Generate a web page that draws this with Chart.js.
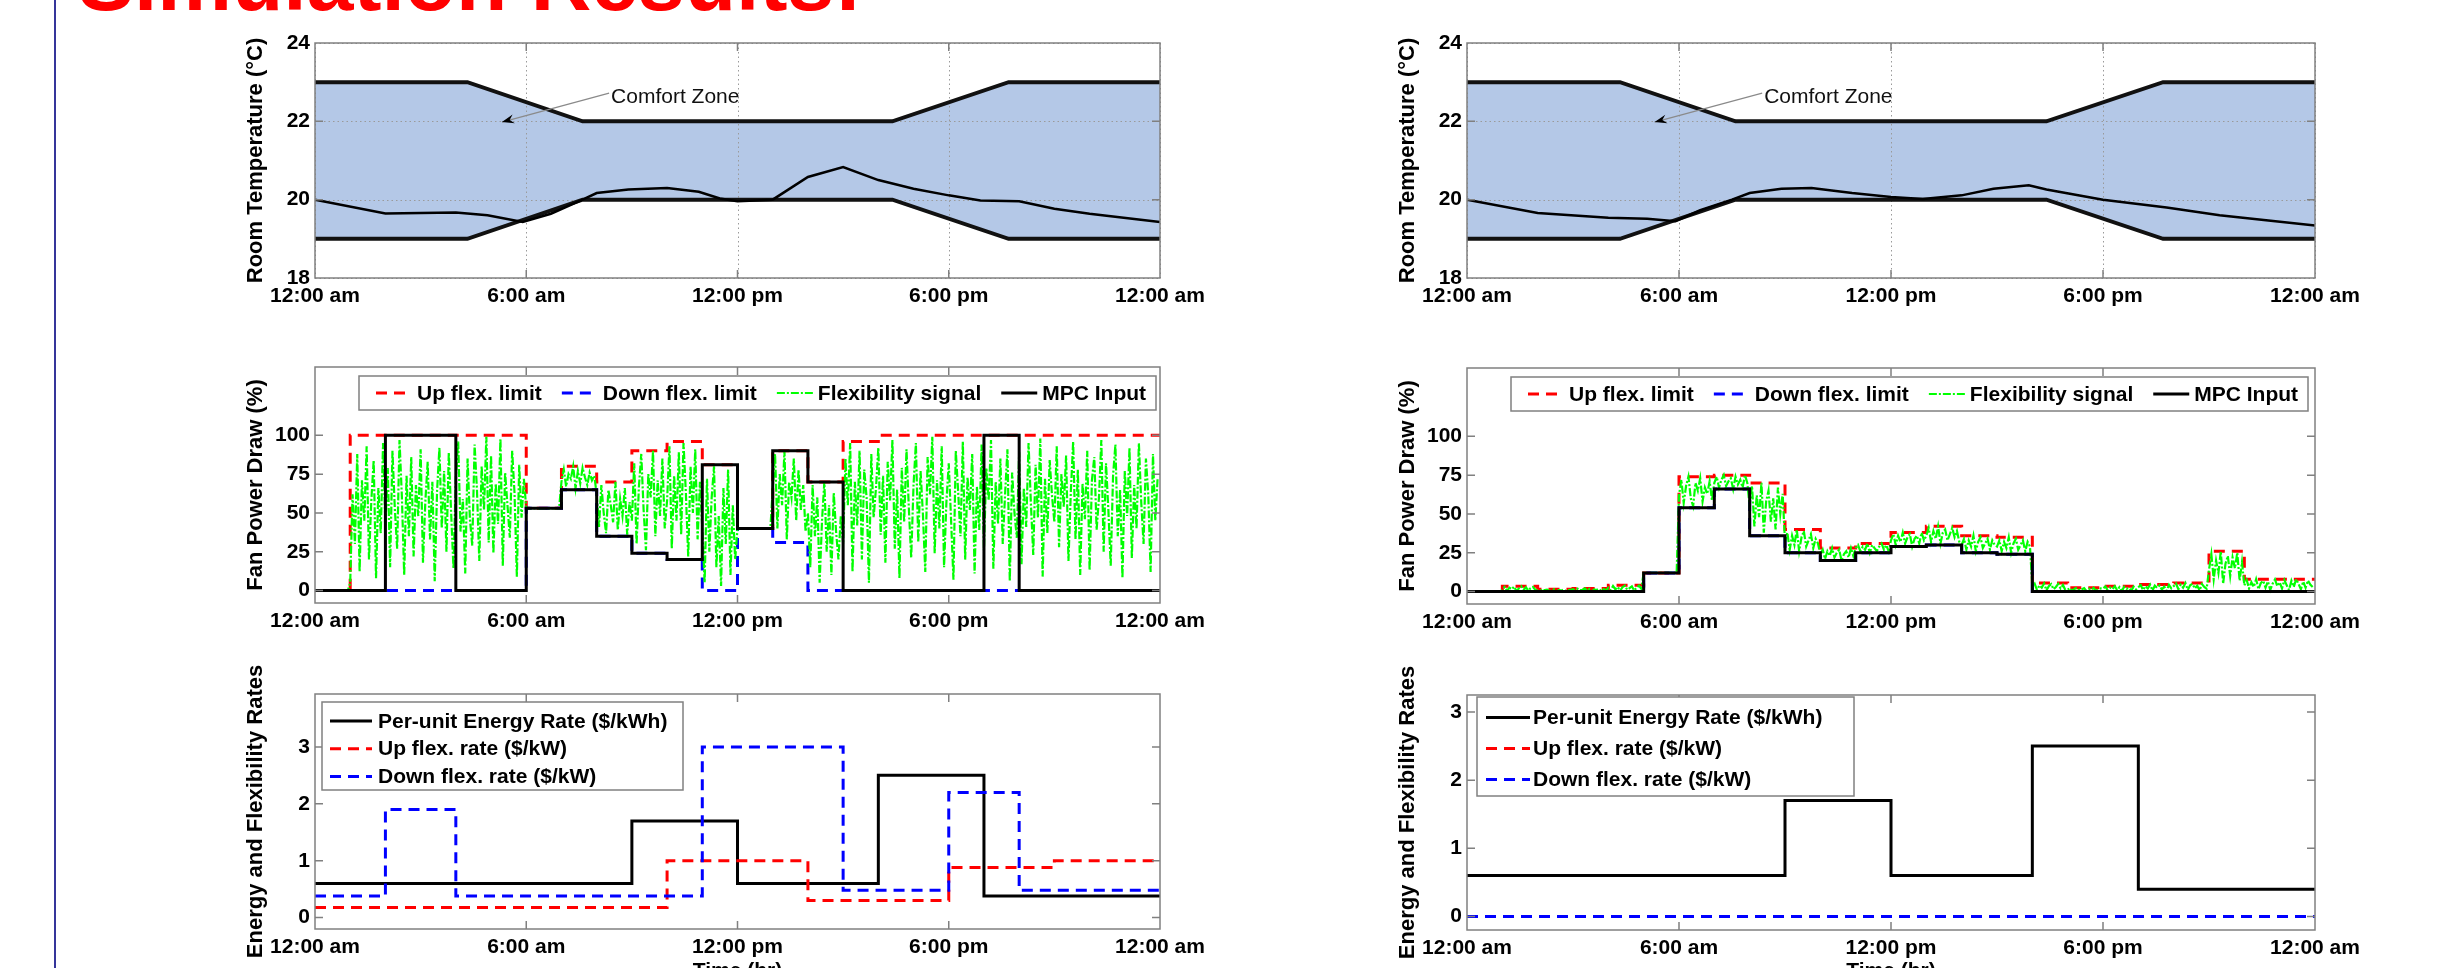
<!DOCTYPE html>
<html>
<head>
<meta charset="utf-8">
<script src="https://cdn.jsdelivr.net/npm/chart.js@4"></script>
<style>
  html, body { margin: 0; padding: 0; background: #fff; }
  body { width: 2459px; height: 968px; overflow: hidden; position: relative; font-family: "Liberation Sans", Arial, sans-serif; }
  #title { position: absolute; left: 78px; top: -61px; font-size: 84px; line-height: 84px; font-weight: bold; color: #ff0000; white-space: nowrap; }
  #bar { position: absolute; left: 54px; top: 0; width: 2px; height: 968px; background: #35359a; }
  canvas { position: absolute; }
</style>
</head>
<body>
<div id="title">Simulation Results:</div>
<div id="bar"></div>
<canvas id="tempA" width="977" height="305" style="left:243px;top:23px"></canvas>
<canvas id="tempB" width="980" height="305" style="left:1395px;top:23px"></canvas>
<canvas id="fanA" width="977" height="306" style="left:243px;top:347px"></canvas>
<canvas id="fanB" width="980" height="306" style="left:1395px;top:348px"></canvas>
<canvas id="rateA" width="977" height="335" style="left:243px;top:649px"></canvas>
<canvas id="rateB" width="980" height="334" style="left:1395px;top:650px"></canvas>
<script>
"use strict";
const FONT = "'Liberation Sans', Arial, sans-serif";

// axis ticks
const hourTicks = [0, 6, 12, 18, 24];
const hourLabels = ["12:00 am", "6:00 am", "12:00 pm", "6:00 pm", "12:00 am"];
const tempTicks = [18, 20, 22, 24];
const fanTicks = [0, 25, 50, 75, 100];
const rateTicks = [0, 1, 2, 3];

// comfort zone (same for both cases)
const zoneTimes = [0, 4.33, 7.6, 16.4, 19.7, 24];
const zoneUpper = [23, 23, 22, 22, 23, 23];
const zoneLower = [19, 19, 20, 20, 19, 19];

// room temperature, left case
const tempTimesA = [0, 2, 4, 4.9, 5.9, 6.7, 7.6, 8, 8.9, 10, 10.9, 11.5, 12, 13, 14, 15, 16, 17, 18, 18.9, 20, 21, 22, 24];
const tempA = [20, 19.65, 19.67, 19.6, 19.43, 19.64, 20, 20.17, 20.26, 20.3, 20.2, 20.03, 19.96, 20, 20.58, 20.83, 20.5, 20.28, 20.11, 19.98, 19.96, 19.77, 19.64, 19.43];
// room temperature, right case
const tempTimesB = [0, 2, 4, 5.1, 5.9, 6.6, 7.5, 8, 8.9, 9.75, 10.9, 12, 12.9, 14, 14.9, 15.9, 16.4, 18, 19.8, 21.3, 24];
const tempB = [20, 19.66, 19.54, 19.51, 19.45, 19.73, 20, 20.17, 20.28, 20.3, 20.17, 20.07, 20.02, 20.11, 20.28, 20.37, 20.26, 20, 19.8, 19.6, 19.34];

// fan power draw, hourly values (%), left case
const upA   = [0, 100, 100, 100, 100, 100, 53, 80, 70, 90, 96, 81, 40, 90, 70, 96, 100, 100, 100, 100, 100, 100, 100, 100];
const downA = [0, 0, 0, 0, 0, 0, 53, 65, 35, 24, 20, 0, 40, 31, 0, 0, 0, 0, 0, 0, 0, 0, 0, 0];
const mpcA  = [0, 0, 100, 100, 0, 0, 53, 65, 35, 24, 20, 81, 40, 90, 70, 0, 0, 0, 0, 100, 0, 0, 0, 0];
// fan power draw, hourly values (%), right case
const upB   = [0, 3.5, 1.5, 2, 4, 12, 74, 75, 70, 40, 28, 31, 38, 42, 36, 35, 5.5, 2.5, 3.5, 4.5, 5.5, 26, 8, 8];
const downB = [0, 0, 0, 0, 0, 12, 54, 66, 36, 25, 20, 25, 29, 30, 25, 24, 0, 0, 0, 0, 0, 0, 0, 0];
const mpcB  = [0, 0, 0, 0, 0, 12, 54, 66, 36, 25, 20, 25, 29, 30, 25, 24, 0, 0, 0, 0, 0, 0, 0, 0];

// flexibility signal, 15 samples per hour
const flexPerHour = 15;
const flexA = [
  0, 0, 0, 0, 0, 0, 0, 0, 0, 0, 0, 0, 0, 0, 0,
  5, 62, 30, 88, 12, 71, 45, 93, 20, 58, 84, 8, 66, 37, 95,
  42, 79, 15, 90, 53, 27, 97, 61, 10, 74, 35, 86, 22, 68, 48,
  91, 18, 57, 83, 33, 70, 6, 64, 92, 40, 77, 25, 89, 50, 14,
  73, 96, 38, 59, 11, 85, 46, 29, 94, 65, 19, 80, 52, 99, 31,
  87, 24, 69, 43, 98, 16, 76, 55, 34, 90, 63, 9, 81, 47, 72,
  53, 53, 53, 53, 53, 53, 53, 53, 53, 53, 53, 53, 53, 53, 53,
  70, 78, 67, 75, 72, 80, 66, 77, 69, 79, 73, 68, 76, 71, 74,
  62, 41, 68, 50, 37, 65, 55, 44, 70, 39, 59, 48, 66, 36, 57,
  45, 82, 30, 67, 88, 52, 26, 75, 60, 90, 35, 71, 48, 85, 40,
  58, 93, 27, 74, 45, 89, 36, 95, 63, 22, 80, 50, 91, 33, 70,
  40, 5, 72, 25, 60, 80, 15, 48, 3, 66, 30, 78, 10, 55, 20,
  40, 40, 40, 40, 40, 40, 40, 40, 40, 40, 40, 40, 40, 40, 40,
  65, 88, 40, 75, 55, 90, 33, 70, 60, 85, 45, 78, 52, 68, 38,
  50, 15, 68, 35, 60, 5, 45, 70, 25, 55, 10, 63, 38, 20, 48,
  30, 85, 55, 95, 12, 70, 42, 90, 20, 78, 60, 5, 88, 47, 66,
  92, 36, 74, 18, 83, 58, 97, 27, 65, 8, 79, 44, 91, 53, 21,
  68, 95, 31, 77, 49, 12, 86, 62, 99, 24, 71, 40, 93, 15, 57,
  82, 45, 7, 90, 64, 35, 96, 20, 73, 52, 88, 11, 67, 39, 94,
  26, 79, 58, 97, 14, 70, 43, 85, 30, 62, 91, 6, 76, 50, 34,
  89, 17, 66, 41, 95, 56, 23, 81, 47, 98, 9, 72, 37, 84, 61,
  44, 93, 28, 75, 54, 87, 19, 63, 96, 33, 78, 10, 69, 46, 90,
  13, 71, 86, 39, 60, 97, 25, 82, 52, 16, 74, 94, 35, 65, 8,
  77, 48, 92, 21, 68, 40, 95, 57, 30, 85, 62, 12, 88, 45, 73
];
const flexB = [
  0, 0, 0, 0, 0, 0, 0, 0, 0, 0, 0, 0, 0, 0, 0,
  1, 3, 0.5, 2.5, 1.5, 3.2, 0.3, 2, 3.4, 1, 2.8, 0.6, 2.2, 3, 1.2,
  0.5, 1.4, 0.2, 1, 1.3, 0.4, 0.8, 1.5, 0.1, 1.1, 0.6, 1.4, 0.3, 0.9, 1.2,
  1.5, 0.3, 1.9, 0.8, 1.2, 2, 0.5, 1.7, 0.2, 1.4, 1, 1.8, 0.4, 1.6, 0.7,
  2.5, 0.8, 3.6, 1.5, 3, 0.4, 2.8, 3.9, 1.2, 2.2, 3.4, 0.6, 2.6, 3.8, 1.8,
  12, 12, 12, 12, 12, 12, 12, 12, 12, 12, 12, 12, 12, 12, 12,
  62, 72, 57, 68, 74, 60, 55, 70, 65, 73, 58, 67, 63, 71, 59,
  70, 74, 67, 72, 75, 68, 71, 73, 66, 74, 69, 72, 67, 75, 70,
  55, 68, 42, 62, 48, 70, 38, 58, 65, 45, 60, 40, 67, 50, 63,
  32, 38, 27, 36, 30, 40, 26, 35, 39, 29, 33, 37, 28, 34, 31,
  24, 27, 21, 26, 23, 28, 22, 25, 27, 20, 24, 26, 22, 28, 23,
  28, 30, 26, 29, 27, 31, 25, 30, 28, 26, 29, 31, 27, 30, 26,
  33, 37, 30, 36, 32, 38, 31, 35, 37, 29, 34, 36, 31, 38, 33,
  36, 41, 32, 39, 34, 42, 31, 38, 40, 33, 37, 41, 35, 39, 32,
  30, 34, 27, 33, 29, 36, 26, 32, 35, 28, 31, 34, 27, 33, 30,
  29, 33, 26, 32, 28, 35, 25, 31, 34, 27, 30, 33, 26, 32, 29,
  3, 5, 1, 4, 2.5, 5.2, 0.8, 3.5, 4.8, 1.5, 3, 5, 2, 4.2, 1,
  1.2, 2.3, 0.5, 1.8, 2.5, 0.8, 1.5, 2.2, 0.3, 1.9, 1, 2.4, 0.6, 1.6, 2,
  2, 3.3, 0.8, 2.6, 1.5, 3.5, 1, 2.9, 0.4, 3.1, 1.8, 2.4, 0.6, 3.2, 1.3,
  2.8, 4.2, 1, 3.5, 2, 4.5, 0.7, 3.8, 2.4, 4, 1.3, 3.2, 0.5, 4.3, 2.1,
  3.5, 5.2, 1.5, 4.5, 2.5, 5.5, 1, 4, 5, 2, 3.8, 0.8, 4.8, 3, 1.8,
  14, 24, 8, 20, 12, 26, 5, 18, 23, 10, 22, 15, 25, 7, 19,
  4, 7.5, 2, 6, 3, 8, 1.5, 5.5, 7, 2.5, 6.5, 1, 5, 7.8, 3.5,
  6, 2, 7.5, 4, 1, 7, 3, 8, 5, 1.5, 6.5, 2.5, 7.2, 4.5, 3
];

// energy and flexibility rates, hourly
const energyA   = [0.6, 0.6, 0.6, 0.6, 0.6, 0.6, 0.6, 0.6, 0.6, 1.7, 1.7, 1.7, 0.6, 0.6, 0.6, 0.6, 2.5, 2.5, 2.5, 0.38, 0.38, 0.38, 0.38, 0.38];
const upRateA   = [0.18, 0.18, 0.18, 0.18, 0.18, 0.18, 0.18, 0.18, 0.18, 0.18, 1, 1, 1, 1, 0.3, 0.3, 0.3, 0.3, 0.88, 0.88, 0.88, 1, 1, 1];
const downRateA = [0.38, 0.38, 1.9, 1.9, 0.38, 0.38, 0.38, 0.38, 0.38, 0.38, 0.38, 3, 3, 3, 3, 0.48, 0.48, 0.48, 2.2, 2.2, 0.48, 0.48, 0.48, 0.48];
const energyB   = [0.6, 0.6, 0.6, 0.6, 0.6, 0.6, 0.6, 0.6, 0.6, 1.7, 1.7, 1.7, 0.6, 0.6, 0.6, 0.6, 2.5, 2.5, 2.5, 0.4, 0.4, 0.4, 0.4, 0.4];
const upRateB   = [0, 0, 0, 0, 0, 0, 0, 0, 0, 0, 0, 0, 0, 0, 0, 0, 0, 0, 0, 0, 0, 0, 0, 0];
const downRateB = [0, 0, 0, 0, 0, 0, 0, 0, 0, 0, 0, 0, 0, 0, 0, 0, 0, 0, 0, 0, 0, 0, 0, 0];

function pairs(xs, ys) {
  return ys.map((y, i) => ({ x: xs[i], y: y }));
}
function hourly(vals) {
  // each value holds for its hour, last one carried to 24
  return vals.map((v, h) => ({ x: h, y: v })).concat([{ x: 24, y: vals[vals.length - 1] }]);
}
function samples(vals) {
  return vals.map((v, i) => ({ x: i / flexPerHour, y: v }));
}

// frame, inward ticks and dotted grid like the matlab axes
const frame = {
  id: "frame",
  beforeDatasetsDraw(chart, args, opts) {
    if (!opts.grid) return;
    const { ctx, chartArea: a, scales: { x, y } } = chart;
    ctx.save();
    ctx.strokeStyle = "#9a9a9a";
    ctx.lineWidth = 1;
    ctx.setLineDash([1.5, 3]);
    x.ticks.forEach(t => {
      const px = Math.round(x.getPixelForValue(t.value)) + 0.5;
      ctx.beginPath(); ctx.moveTo(px, a.top); ctx.lineTo(px, a.bottom); ctx.stroke();
    });
    y.ticks.forEach(t => {
      const py = Math.round(y.getPixelForValue(t.value)) + 0.5;
      ctx.beginPath(); ctx.moveTo(a.left, py); ctx.lineTo(a.right, py); ctx.stroke();
    });
    ctx.restore();
  },
  afterDatasetsDraw(chart) {
    const { ctx, chartArea: a, scales: { x, y } } = chart;
    ctx.save();
    ctx.strokeStyle = "#808080";
    ctx.lineWidth = 1.5;
    ctx.strokeRect(a.left, a.top, a.right - a.left, a.bottom - a.top);
    ctx.beginPath();
    x.ticks.forEach(t => {
      const px = x.getPixelForValue(t.value);
      if (px <= a.left + 1 || px >= a.right - 1) return;
      ctx.moveTo(px, a.bottom); ctx.lineTo(px, a.bottom - 8);
      ctx.moveTo(px, a.top); ctx.lineTo(px, a.top + 8);
    });
    y.ticks.forEach(t => {
      const py = y.getPixelForValue(t.value);
      if (py <= a.top + 1 || py >= a.bottom - 1) return;
      ctx.moveTo(a.left, py); ctx.lineTo(a.left + 8, py);
      ctx.moveTo(a.right, py); ctx.lineTo(a.right - 8, py);
    });
    ctx.stroke();
    ctx.restore();
  }
};

function sample(ctx, ds, x0, x1, y) {
  ctx.save();
  ctx.strokeStyle = ds.borderColor;
  ctx.lineWidth = ds.borderWidth;
  ctx.setLineDash(ds.borderDash || []);
  ctx.beginPath(); ctx.moveTo(x0, y); ctx.lineTo(x1, y); ctx.stroke();
  ctx.restore();
}

// boxed legend inside the axes
const boxLegend = {
  id: "boxLegend",
  afterDatasetsDraw(chart, args, o) {
    if (!o || !o.w) return;
    const { ctx, chartArea: a } = chart;
    const bx = a.left + o.dx, by = a.top + o.dy;
    ctx.save();
    ctx.fillStyle = "#fff";
    ctx.fillRect(bx, by, o.w, o.h);
    ctx.strokeStyle = "#808080";
    ctx.lineWidth = 1.5;
    ctx.strokeRect(bx, by, o.w, o.h);
    ctx.font = "bold 21px " + FONT;
    ctx.fillStyle = "#000";
    ctx.textBaseline = "middle";
    const sets = chart.data.datasets;
    if (o.row) {
      let cx = bx + o.pad;
      const cy = by + o.h / 2;
      sets.forEach(ds => {
        sample(ctx, ds, cx, cx + o.len, cy);
        cx += o.len + 5;
        ctx.fillText(ds.label, cx, cy + 1);
        cx += ctx.measureText(ds.label).width + o.gap;
      });
    } else {
      sets.forEach((ds, i) => {
        const cy = by + o.first + i * o.step;
        sample(ctx, ds, bx + o.s0, bx + o.s1, cy);
        ctx.fillText(ds.label, bx + o.tx, cy + 1);
      });
    }
    ctx.restore();
  }
};

// "Comfort Zone" text arrow
const note = {
  id: "note",
  afterDatasetsDraw(chart, args, o) {
    if (!o || !o.text) return;
    const { ctx, scales: { x, y } } = chart;
    const tx = x.getPixelForValue(o.tx), ty = y.getPixelForValue(o.ty);
    const ax = x.getPixelForValue(o.ax), ay = y.getPixelForValue(o.ay);
    ctx.save();
    ctx.font = "21px " + FONT;
    ctx.fillStyle = "#111";
    ctx.textBaseline = "middle";
    ctx.fillText(o.text, tx, ty);
    const sx = tx - 2, sy = ty - 4;
    ctx.strokeStyle = "#8a8a8a";
    ctx.lineWidth = 1.2;
    ctx.beginPath(); ctx.moveTo(sx, sy); ctx.lineTo(ax, ay); ctx.stroke();
    const ang = Math.atan2(ay - sy, ax - sx);
    ctx.fillStyle = "#000";
    ctx.beginPath();
    ctx.moveTo(ax, ay);
    ctx.lineTo(ax - 13 * Math.cos(ang - 0.35), ay - 13 * Math.sin(ang - 0.35));
    ctx.lineTo(ax - 8 * Math.cos(ang), ay - 8 * Math.sin(ang));
    ctx.lineTo(ax - 13 * Math.cos(ang + 0.35), ay - 13 * Math.sin(ang + 0.35));
    ctx.closePath();
    ctx.fill();
    ctx.restore();
  }
};

function makeOptions(o) {
  return {
    responsive: false,
    animation: false,
    devicePixelRatio: 1,
    layout: { padding: { top: o.top || 20, right: o.right, left: 0, bottom: 0 } },
    elements: { point: { radius: 0 }, line: { tension: 0 } },
    plugins: {
      legend: { display: false },
      tooltip: { enabled: false },
      filler: { drawTime: "beforeDatasetsDraw" },
      frame: { grid: !!o.grid },
      boxLegend: o.legend || {},
      note: o.note || {}
    },
    scales: {
      x: {
        type: "linear", min: 0, max: 24,
        grid: { display: false, drawTicks: false },
        border: { display: false },
        afterBuildTicks: s => { s.ticks = hourTicks.map(v => ({ value: v })); },
        afterFit: s => { s.height = o.xh; s.paddingLeft = 0; s.paddingRight = 0; },
        ticks: {
          callback: (v, i) => hourLabels[i],
          color: "#000", padding: 6, maxRotation: 0, autoSkip: false,
          font: { family: FONT, size: 21, weight: "bold" }
        },
        title: {
          display: !!o.xTitle, text: o.xTitle || "", color: "#000", padding: 0,
          font: { family: FONT, size: 21, weight: "bold" }
        }
      },
      y: {
        min: o.ymin, max: o.ymax,
        grid: { display: false, drawTicks: false },
        border: { display: false },
        afterBuildTicks: s => { s.ticks = o.yTicks.map(v => ({ value: v })); },
        afterFit: s => { s.width = 72; s.paddingTop = 0; s.paddingBottom = 0; },
        ticks: { color: "#000", padding: 5, font: { family: FONT, size: 21, weight: "bold" } },
        title: {
          display: true, text: o.yTitle, color: "#000", padding: 0,
          font: { family: FONT, size: 22, weight: "bold" }
        }
      }
    }
  };
}

function tempChart(id, times, temps, right) {
  new Chart(document.getElementById(id), {
    type: "line",
    data: {
      datasets: [
        { label: "Room temperature", data: pairs(times, temps), borderColor: "#000", borderWidth: 2.5, fill: false, order: 0 },
        { label: "Upper limit", data: pairs(zoneTimes, zoneUpper), borderColor: "#111", borderWidth: 4,
          fill: "+1", backgroundColor: "#b4c8e7", order: 1 },
        { label: "Lower limit", data: pairs(zoneTimes, zoneLower), borderColor: "#111", borderWidth: 4, fill: false, order: 2 }
      ]
    },
    options: makeOptions({
      right: right, xh: 50, ymin: 18, ymax: 24, yTicks: tempTicks, grid: true,
      yTitle: "Room Temperature (°C)",
      note: { text: "Comfort Zone", tx: 8.41, ty: 22.62, ax: 5.31, ay: 21.98 }
    }),
    plugins: [frame, boxLegend, note]
  });
}

function fanChart(id, up, down, flex, mpc, right) {
  new Chart(document.getElementById(id), {
    type: "line",
    data: {
      datasets: [
        { label: "Up flex. limit", data: hourly(up), stepped: true, borderColor: "#ff0000", borderWidth: 3, borderDash: [11, 7], fill: false, order: 3 },
        { label: "Down flex. limit", data: hourly(down), stepped: true, borderColor: "#0000ff", borderWidth: 3, borderDash: [11, 7], fill: false, order: 2 },
        { label: "Flexibility signal", data: samples(flex), borderColor: "#00ff00", borderWidth: 2.2, borderDash: [8, 2, 2, 2], fill: false, order: 1 },
        { label: "MPC Input", data: hourly(mpc), stepped: true, borderColor: "#000", borderWidth: 3, fill: false, order: 0 }
      ]
    },
    options: makeOptions({
      right: right, xh: 50, ymin: -8, ymax: 144, yTicks: fanTicks,
      yTitle: "Fan Power Draw (%)",
      legend: { row: true, dx: 44, dy: 9, w: 797, h: 34, pad: 17, len: 36, gap: 20 }
    }),
    plugins: [frame, boxLegend, note]
  });
}

function rateChart(id, energy, upRate, downRate, ymax, xh, legend) {
  new Chart(document.getElementById(id), {
    type: "line",
    data: {
      datasets: [
        { label: "Per-unit Energy Rate ($/kWh)", data: hourly(energy), stepped: true, borderColor: "#000", borderWidth: 3, fill: false, order: 2 },
        { label: "Up flex. rate ($/kW)", data: hourly(upRate), stepped: true, borderColor: "#ff0000", borderWidth: 3, borderDash: [11, 7], fill: false, order: 1 },
        { label: "Down flex. rate ($/kW)", data: hourly(downRate), stepped: true, borderColor: "#0000ff", borderWidth: 3, borderDash: [11, 7], fill: false, order: 0 }
      ]
    },
    options: makeOptions({
      top: 45, right: 60, xh: xh, ymin: -0.2, ymax: ymax, yTicks: rateTicks,
      yTitle: "Energy and Flexibility Rates", xTitle: "Time (hr)",
      legend: legend
    }),
    plugins: [frame, boxLegend, note]
  });
}

tempChart("tempA", tempTimesA, tempA, 60);
tempChart("tempB", tempTimesB, tempB, 60);
fanChart("fanA", upA, downA, flexA, mpcA, 60);
fanChart("fanB", upB, downB, flexB, mpcB, 60);
rateChart("rateA", energyA, upRateA, downRateA, 3.93, 55,
  { dx: 7, dy: 8, w: 361, h: 88, s0: 8, s1: 50, tx: 56, first: 19, step: 27.7 });
rateChart("rateB", energyB, upRateB, downRateB, 3.25, 54,
  { dx: 10, dy: 2, w: 377, h: 99, s0: 9, s1: 53, tx: 56, first: 20.6, step: 31 });
</script>
</body>
</html>
